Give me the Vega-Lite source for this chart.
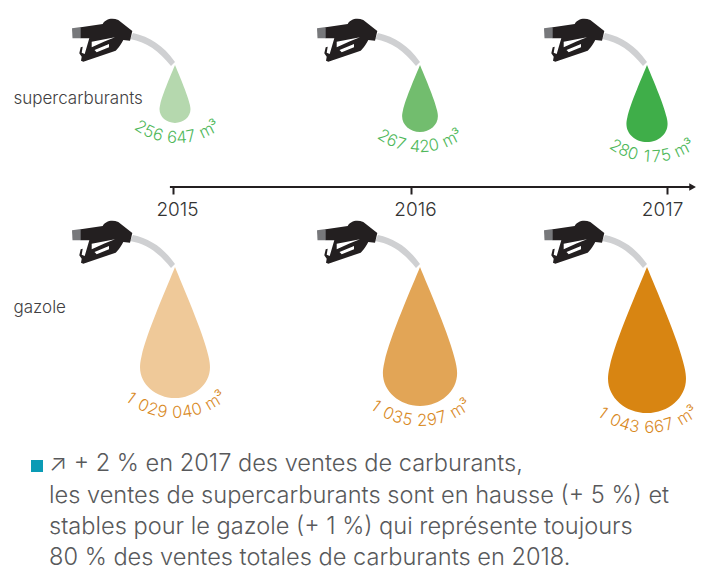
{
"$schema":"https://vega.github.io/schema/vega-lite/v6.json",
"width":705,"height":568,"padding":0,"autosize":{"type":"none"},
"background":"white",
"config":{"view":{"stroke":null},"font":"Inter"},
"title":{"text":["↗ + 2 % en 2017 des ventes de carburants,","les ventes de supercarburants sont en hausse (+ 5 %) et","stables pour le gazole (+ 1 %) qui représente toujours","80 % des ventes totales de carburants en 2018."],
"anchor":"start","frame":"group","orient":"top","baseline":"top","align":"left","offset":0,"dx":49,"dy":570,"font":"Inter","fontSize":23.6,"fontWeight":300,"color":"#58595b","lineHeight":31.4},
"data":{"values":[
{"year":2015,"fuel":"supercarburants","value":256647,"label":"256 647 m³"},
{"year":2016,"fuel":"supercarburants","value":267420,"label":"267 420 m³"},
{"year":2017,"fuel":"supercarburants","value":280175,"label":"280 175 m³"},
{"year":2015,"fuel":"gazole","value":1029040,"label":"1 029 040 m³"},
{"year":2016,"fuel":"gazole","value":1035297,"label":"1 035 297 m³"},
{"year":2017,"fuel":"gazole","value":1043667,"label":"1 043 667 m³"}
]},
"resolve":{"scale":{"x":"independent","y":"independent"},"axis":{"x":"independent","y":"independent"}},
"layer":[
{"data":{"values":[{"from":2014.987,"to":2017.1}]},
 "layer":[
 {"mark":{"type":"rule","strokeWidth":2,"color":"#231f20"},
  "encoding":{"x":{"field":"from","type":"quantitative","scale":{"domain":[2015,2016,2017],"range":[173,411,667]},"title":null,
    "axis":{"orient":"bottom","offset":-381,"tickCount":3,"format":"d","domain":false,"grid":false,"tickSize":7,"tickWidth":2,"tickColor":"#231f20","labelFont":"Inter","labelFontSize":19,"labelFontWeight":300,"labelColor":"#333333","labelPadding":6,"labelFlush":false,"labelOverlap":false,"labelOffset":{"condition":{"test":"datum.value==2017","value":-5},"value":4}}},
   "x2":{"field":"to"},"y":{"value":187}}},
 {"mark":{"type":"point","shape":"triangle-right","filled":true,"size":60,"opacity":1,"color":"#231f20","strokeWidth":0},
  "encoding":{"x":{"field":"to","type":"quantitative"},"y":{"value":187}}}
 ]},
{"resolve":{"scale":{"color":"independent"}},
 "transform":[{"calculate":"datum.year==2016?9:0","as":"nudge"}],
 "encoding":{
  "x":{"field":"year","type":"ordinal","scale":{"type":"point","domain":[2015,2016,2017],"range":[175,647],"padding":0},"axis":null},
  "xOffset":{"field":"nudge","type":"quantitative","scale":null},
  "y":{"field":"fuel","type":"nominal","title":null,"scale":{"type":"point","domain":["supercarburants","gazole"],"range":[65,267],"padding":0},
    "axis":{"orient":"left","ticks":false,"domain":false,"grid":false,"labelFont":"Inter","labelFontSize":17,"labelFontWeight":300,"labelColor":"#414042","labelAlign":"left","labelPadding":-13,"labelOverlap":false,"labelOffset":{"condition":{"test":"datum.value=='gazole'","value":40},"value":33}}}
 },
 "layer":[
 {"mark":{"type":"point","filled":true,"opacity":1,"strokeWidth":0,"size":4,"color":"#cfd0d2","shape":"M-42 -32 C-25 -28 -12 -20 0 -3 L-4 1 C-16 -14 -28 -23 -45 -26 Z"}},
 {"mark":{"type":"point","filled":true,"opacity":1,"strokeWidth":0,"size":4,"color":"#77787b","shape":"M-103 -36.7 L-94 -38 L-94 -26.7 L-102.5 -26.7 Z"}},
 {"mark":{"type":"point","filled":true,"opacity":1,"strokeWidth":0,"size":4,"color":"#231f20","shape":"M-94.3 -37.7 L-72.3 -41 C-70 -45.7 -63.3 -47.7 -56.7 -45 L-42.7 -34 L-45 -24.3 L-51.7 -25 C-53.3 -21.7 -56.7 -16.7 -59.3 -14.3 L-91.7 -3.3 L-94 -4.3 L-93.3 -8.3 L-95.7 -11.7 L-94.3 -17.7 L-92.3 -18.3 L-93.3 -12.3 L-90.3 -11 L-85.7 -26.7 L-94.3 -26.7 Z M-83.3 -23.3 L-83.3 -17.7 L-70 -23.8 L-60 -27.7 Z M-80.5 -15 L-78.3 -12.8 L-66 -17.7 L-66 -21 Z"}},
 {"mark":{"type":"point","filled":true,"opacity":1,"strokeWidth":0,"shape":"M0 0 C0.1 0.25 0.44 1.02 0.51 1.36 C0.53 1.44 0.534 1.5 0.534 1.53 C0.534 1.79 0.295 2 0 2 C-0.295 2 -0.534 1.79 -0.534 1.53 C-0.534 1.5 -0.53 1.44 -0.51 1.36 C-0.44 1.02 -0.1 0.25 0 0 Z"},
  "encoding":{
   "size":{"field":"value","type":"quantitative","legend":null,"scale":{"type":"linear","domain":[256647,267420,280175,1029040,1035297,1043667],"range":[3364,4489,5929,17161,19321,21316]}},
   "color":{"field":"value","type":"nominal","legend":null,"scale":{"domain":[256647,267420,280175,1029040,1035297,1043667],"range":["#b5d8ae","#72bd6e","#3fae49","#efc999","#e2a556","#d88512"]}}
  }},
 {"transform":[
   {"calculate":"split(datum.label,'')","as":"chars"},
   {"flatten":["chars"]},
   {"calculate":"datum.chars==' '?0.5:datum.chars=='m'?1.45:datum.chars=='³'?0.6:1","as":"w"},
   {"window":[{"op":"sum","field":"w","as":"cum"}],"groupby":["label"],"ignorePeers":true},
   {"joinaggregate":[{"op":"sum","field":"w","as":"tot"}],"groupby":["label"]},
   {"calculate":"[58,67,77,131,139,146][indexof([256647,267420,280175,1029040,1035297,1043667],datum.value)]","as":"h"},
   {"calculate":"[2,0,5,0,0,0][indexof([256647,267420,280175,1029040,1035297,1043667],datum.value)]","as":"dx"},
   {"calculate":"datum.fuel=='gazole'?74:68","as":"r"},
   {"calculate":"(datum.cum-datum.w/2-datum.tot/2)*(datum.fuel=='gazole'?10:9.6)/datum.r","as":"t"},
   {"calculate":"datum.nudge+datum.dx+datum.r*sin(datum.t)","as":"ox"},
   {"calculate":"datum.h+15-datum.r+datum.r*cos(datum.t)","as":"oy"},
   {"calculate":"-datum.t*180/PI","as":"a"}
  ],
  "mark":{"type":"text","font":"Inter","fontSize":16.5,"fontWeight":300,"align":"center","baseline":"middle"},
  "encoding":{
   "text":{"field":"chars","type":"nominal"},
   "xOffset":{"field":"ox","type":"quantitative","scale":null},
   "yOffset":{"field":"oy","type":"quantitative","scale":null},
   "angle":{"field":"a","type":"quantitative","scale":null},
   "color":{"field":"fuel","type":"nominal","legend":null,"scale":{"domain":["supercarburants","gazole"],"range":["#4fb85a","#d98a1f"]}}
  }}
 ]},
{"data":{"values":[{"note":"bullet"}]},
 "mark":{"type":"square","filled":true,"size":144,"opacity":1,"color":"#0a9bb5","strokeWidth":0},
 "encoding":{"x":{"value":37},"y":{"value":466}}}
]
}
